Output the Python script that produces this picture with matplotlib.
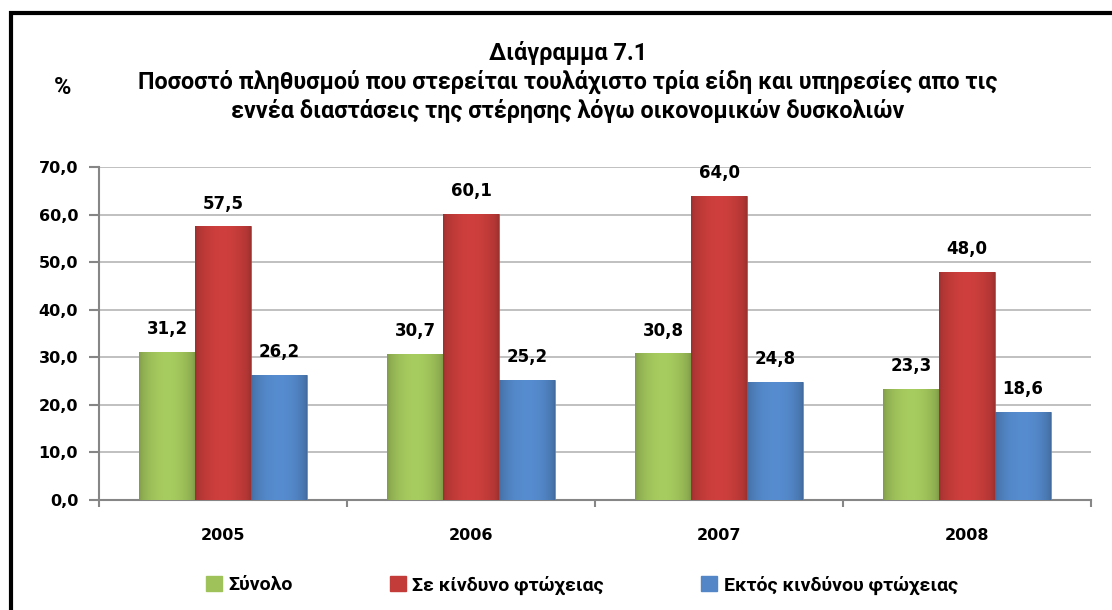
import numpy as np
import matplotlib
matplotlib.use('Agg')
import matplotlib.pyplot as plt
from matplotlib.patches import Rectangle, Patch
from matplotlib.ticker import FuncFormatter
from matplotlib.colors import to_rgb

# Data
years = ['2005', '2006', '2007', '2008']
total = [31.2, 30.7, 30.8, 23.3]           # Σύνολο
at_risk = [57.5, 60.1, 64.0, 48.0]         # Σε κίνδυνο φτώχειας
not_at_risk = [26.2, 25.2, 24.8, 18.6]     # Εκτός κινδύνου φτώχειας

series_names = ['Σύνολο', 'Σε κίνδυνο φτώχειας', 'Εκτός κινδύνου φτώχειας']
series_colors = ['#9fc25a', '#c43c3a', '#5286c6']

title_lines = 'Διάγραμμα 7.1\nΠοσοστό πληθυσμού που στερείται τουλάχιστο τρία είδη και υπηρεσίες απο τις\nεννέα διαστάσεις της στέρησης λόγω οικονομικών δυσκολιών'

num_font = 'DejaVu Sans'
txt_font = ['Roboto', 'DejaVu Sans']


def shade_bar(ax, bar, color):
    # fake the excel bevel: darker at the sides, lighter in the middle
    r, g, b = to_rgb(color)
    xs = np.linspace(0, 1, 64)
    k = 0.80 + 0.25 * np.sin(np.pi * xs) ** 0.6
    grad = np.zeros((1, 64, 3))
    grad[0, :, 0] = np.clip(r * k, 0, 1)
    grad[0, :, 1] = np.clip(g * k, 0, 1)
    grad[0, :, 2] = np.clip(b * k, 0, 1)
    x0, y0 = bar.get_x(), bar.get_y()
    w, h = bar.get_width(), bar.get_height()
    im = ax.imshow(grad, extent=[x0, x0 + w, y0, y0 + h], aspect='auto',
                   zorder=bar.get_zorder() + 0.1, interpolation='bicubic')
    im.set_clip_path(bar)


fig = plt.figure(figsize=(11.12, 6.10), dpi=100)
ax = fig.add_axes([99 / 1112, 1 - 500 / 610, 992 / 1112, 333 / 610])

x = np.arange(len(years))
width = 0.225
all_series = [total, at_risk, not_at_risk]

for i, (vals, col) in enumerate(zip(all_series, series_colors)):
    bars = ax.bar(x + (i - 1) * width, vals, width, color=col, zorder=3,
                  edgecolor=col, linewidth=0.5)
    for b in bars:
        shade_bar(ax, b, col)
    ax.bar_label(bars, labels=[f'{v:.1f}'.replace('.', ',') for v in vals],
                 padding=10, fontsize=12, fontweight='bold', family=num_font,
                 color='black')

ax.set_xlim(-0.5, len(years) - 0.5)
ax.set_ylim(0, 70)
ax.set_yticks(np.arange(0, 71, 10))
ax.yaxis.set_major_formatter(FuncFormatter(lambda v, p: f'{v:.1f}'.replace('.', ',')))
ax.set_xticks(x)
ax.set_xticklabels(years)
ax.set_xticks(np.arange(-0.5, len(years), 1), minor=True)

ax.grid(axis='y', color='#c0c0c0', linewidth=1.4, zorder=0)
ax.set_axisbelow(True)
for s in ['top', 'right']:
    ax.spines[s].set_visible(False)
for s in ['left', 'bottom']:
    ax.spines[s].set_color('#868686')
    ax.spines[s].set_linewidth(1.5)

ax.tick_params(axis='y', length=7, width=1.5, color='#868686', pad=8)
ax.tick_params(axis='x', which='major', length=0, pad=20)
ax.tick_params(axis='x', which='minor', length=5, width=1.5, color='#868686')
for lab in ax.get_xticklabels() + ax.get_yticklabels():
    lab.set_fontsize(11.5)
    lab.set_fontweight('bold')
    lab.set_family(num_font)

# title and % label
fig.text(568 / 1112, 1 - 82 / 610, title_lines, ha='center', va='center',
         fontsize=16.8, fontweight='bold', family=txt_font, linespacing=1.27)
fig.text(63 / 1112, 1 - 87 / 610, '%', ha='center', va='center',
         fontsize=16.8, fontweight='bold', family=txt_font)

# legend
handles = [Patch(facecolor=c, edgecolor=c) for c in series_colors]
fig.legend(handles, series_names, loc='center', bbox_to_anchor=(582 / 1112, 1 - 585 / 610),
           ncol=3, frameon=False, handlelength=0.8, handleheight=0.8,
           handletextpad=0.35, columnspacing=5.0,
           prop={'family': txt_font, 'weight': 'bold', 'size': 14})

# thick frame around the chart (cut off on the right and bottom)
fig.patches.append(Rectangle((11 / 1112, -0.05), 1.2, 1 - 13 / 610 + 0.05,
                             transform=fig.transFigure, fill=False,
                             edgecolor='black', linewidth=3, zorder=10))

fig.savefig('out.png', dpi=100)
